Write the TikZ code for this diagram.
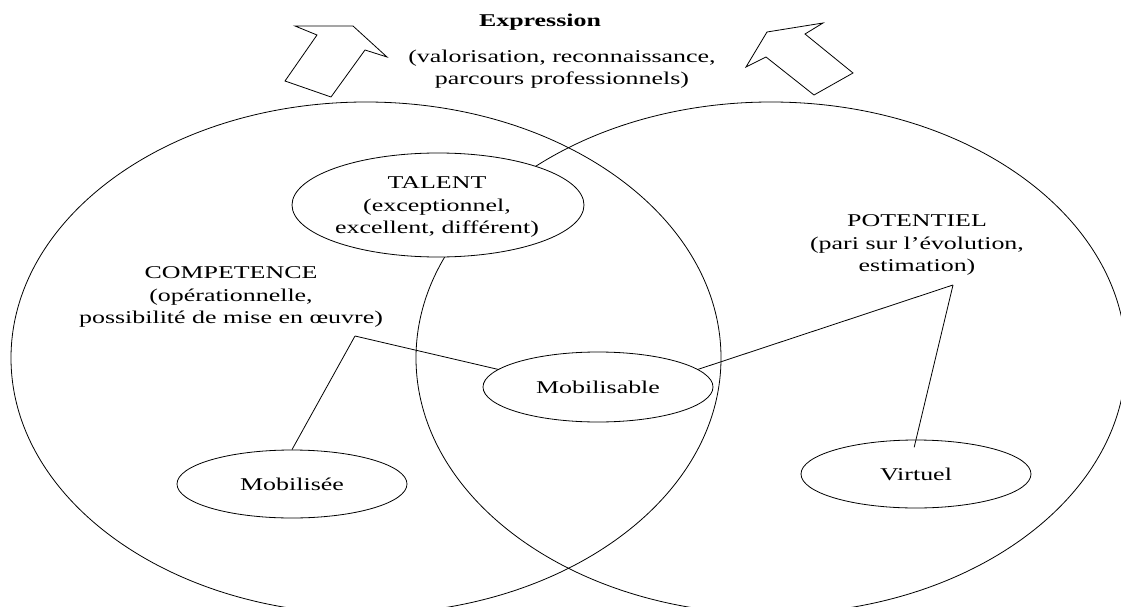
\documentclass[tikz,border=0pt]{standalone}
\usepackage{fontspec}
\setmainfont{Liberation Serif}[FakeStretch=1.44]
\usetikzlibrary{shapes.geometric}

\begin{document}
\begin{tikzpicture}[x=1pt,y=-1pt,
  line width=0.8pt,
  lbl/.style={align=center, inner sep=0pt, font=\fontsize{18}{22.5}\selectfont},
  oval/.style={draw, ellipse, fill=white, inner sep=0pt, font=\fontsize{18}{22.5}\selectfont},
  wire/.style={draw, line width=0.8pt},
  blockarrow/.style={draw, fill=white, line join=miter}]

\useasboundingbox (0,0) rectangle (1121,607);
\clip (0,0) rectangle (1121,607);

% the two overlapping domains
\draw (366,358) ellipse [x radius=355pt, y radius=256pt];
\draw (771,358) ellipse [x radius=355pt, y radius=256pt];

% outlined block arrows rising out of the domains
\draw[blockarrow] (285,81) -- (317,35) -- (295,26) -- (353,26) -- (387,57)
  -- (365,50) -- (331,97) -- cycle;
\draw[blockarrow] (746,67) -- (767,32) -- (823,23) -- (805,34) -- (853,73)
  -- (814,95) -- (766,57) -- cycle;

% heading
\node[lbl, font=\bfseries\fontsize{18}{22.5}\selectfont] (expression) at (540,22) {Expression};
\node[lbl] (expressiondetail) at (562,69) {(valorisation, reconnaissance,\\parcours professionnels)};

% talent
\node[oval, minimum width=292pt, minimum height=104pt] (talent) at (438,205) {};
\node[lbl] (talentlbl) at (437,207) {TALENT\\(exceptionnel,\\excellent, différent)};

% domain captions
\node[lbl] (competence) at (231,297) {COMPETENCE\\(opérationnelle,\\possibilité de mise en œuvre)};
\node[lbl] (potentiel) at (917,245) {POTENTIEL\\(pari sur l’évolution,\\estimation)};

% states
\node[oval, minimum width=230pt, minimum height=70pt] (mobilisable) at (598,387) {Mobilisable};
\node[oval, minimum width=230pt, minimum height=68pt] (mobilisee) at (292,484) {Mobilisée};
\node[oval, minimum width=230pt, minimum height=68pt] (virtuel) at (916,474) {Virtuel};

% connectors
\coordinate (compfork) at (355,336);
\coordinate (potfork) at (953,285);
\draw[wire] (compfork) -- (mobilisable.170);
\draw[wire] (compfork) -- (mobilisee.north);
\draw[wire] (potfork) -- (mobilisable.10);
\draw[wire, shorten >=-8pt] (potfork) -- (virtuel.north);
\end{tikzpicture}
\end{document}
